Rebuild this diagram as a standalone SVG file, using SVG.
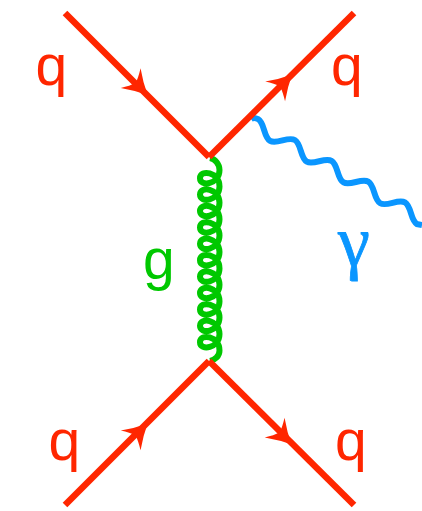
<svg xmlns="http://www.w3.org/2000/svg" width="422" height="511" viewBox="0 0 422 511">
<style>
.q{font-family:"Liberation Sans",Arial,sans-serif;font-size:57px;fill:#ff2600}
.f{fill:none;stroke:#ff2600;stroke-width:6.5}
.h{fill:#ff2600}
</style>
<defs>
<path id="ah" d="M3,0 Q-9,-5.500 -21,-14 Q-16,-6 -14,0 Q-16,6 -21,14 Q-9,5.500 3,0 Z"/>
</defs>
<rect width="422" height="511" fill="#fff"/>
<g id="connectors">
<path id="gluon" fill="none" stroke="#00c800" stroke-width="6" d="M210,158 C215,159 219.500,164 219.500,170 c0,14.500 -19.500,17.300 -19.500,8.200 c0,-9.100 19.500,-6.300 19.500,8.200 c0,14.500 -19.500,17.300 -19.500,8.200 c0,-9.100 19.500,-6.300 19.500,8.200 c0,14.500 -19.500,17.300 -19.500,8.200 c0,-9.100 19.500,-6.300 19.500,8.200 c0,14.500 -19.500,17.300 -19.500,8.200 c0,-9.100 19.500,-6.300 19.500,8.200 c0,14.500 -19.500,17.300 -19.500,8.200 c0,-9.100 19.500,-6.300 19.500,8.200 c0,14.500 -19.500,17.300 -19.500,8.200 c0,-9.100 19.500,-6.300 19.500,8.200 c0,14.500 -19.500,17.300 -19.500,8.200 c0,-9.100 19.500,-6.300 19.500,8.200 c0,14.500 -19.500,17.300 -19.500,8.200 c0,-9.100 19.500,-6.300 19.500,8.200 c0,14.500 -19.500,17.300 -19.500,8.200 c0,-9.100 19.500,-6.300 19.500,8.200 c0,14.500 -19.500,17.300 -19.500,8.200 c0,-9.100 19.500,-6.300 19.500,8.200 c0,14.500 -19.500,17.300 -19.500,8.200 c0,-9.100 19.500,-6.300 19.500,8.200 C219.500,356 215,360 210,361"/>
<path id="photon" fill="none" stroke="#0a96ff" stroke-width="6" d="M251,119 Q254,117 258.150,119.200 C264.750,122.900 263.500,137.150 270.100,140.850 S288.250,136.300 294.850,140 S300.200,157.950 306.800,161.650 S324.950,157.100 331.550,160.800 S336.900,178.750 343.500,182.450 S361.650,177.900 368.250,181.600 S373.600,199.550 380.200,203.250 S398.350,198.700 404.950,202.400 S410.300,220.350 416.900,224.050 L422,225"/>
<line class="f" x1="65" y1="13" x2="209" y2="157"/>
<line class="f" x1="209" y1="157" x2="354" y2="13"/>
<line class="f" x1="65" y1="505" x2="209" y2="361"/>
<line class="f" x1="209" y1="361" x2="354" y2="505"/>
<use href="#ah" class="h" transform="translate(145.500,93) rotate(45)"/>
<use href="#ah" class="h" transform="translate(290,76.500) rotate(-45)"/>
<use href="#ah" class="h" transform="translate(145.500,425.500) rotate(-45)"/>
<use href="#ah" class="h" transform="translate(289.500,442.500) rotate(45)"/>
</g>
<g id="node-q1"><text class="q" x="35.500" y="85">q</text></g>
<g id="node-q2"><text class="q" x="331" y="85">q</text></g>
<g id="node-q3"><text class="q" x="48.500" y="460">q</text></g>
<g id="node-q4"><text class="q" x="335" y="460">q</text></g>
<g id="node-g"><text x="143" y="279" style="font-family:'Liberation Sans',Arial,sans-serif;font-size:57px;fill:#00c800">g</text></g>
<g id="node-gamma"><text x="338" y="266" style="font-family:'Liberation Serif','Times New Roman',serif;font-size:72px;fill:#0a96ff;stroke:#0a96ff;stroke-width:0.8">γ</text></g>
</svg>
